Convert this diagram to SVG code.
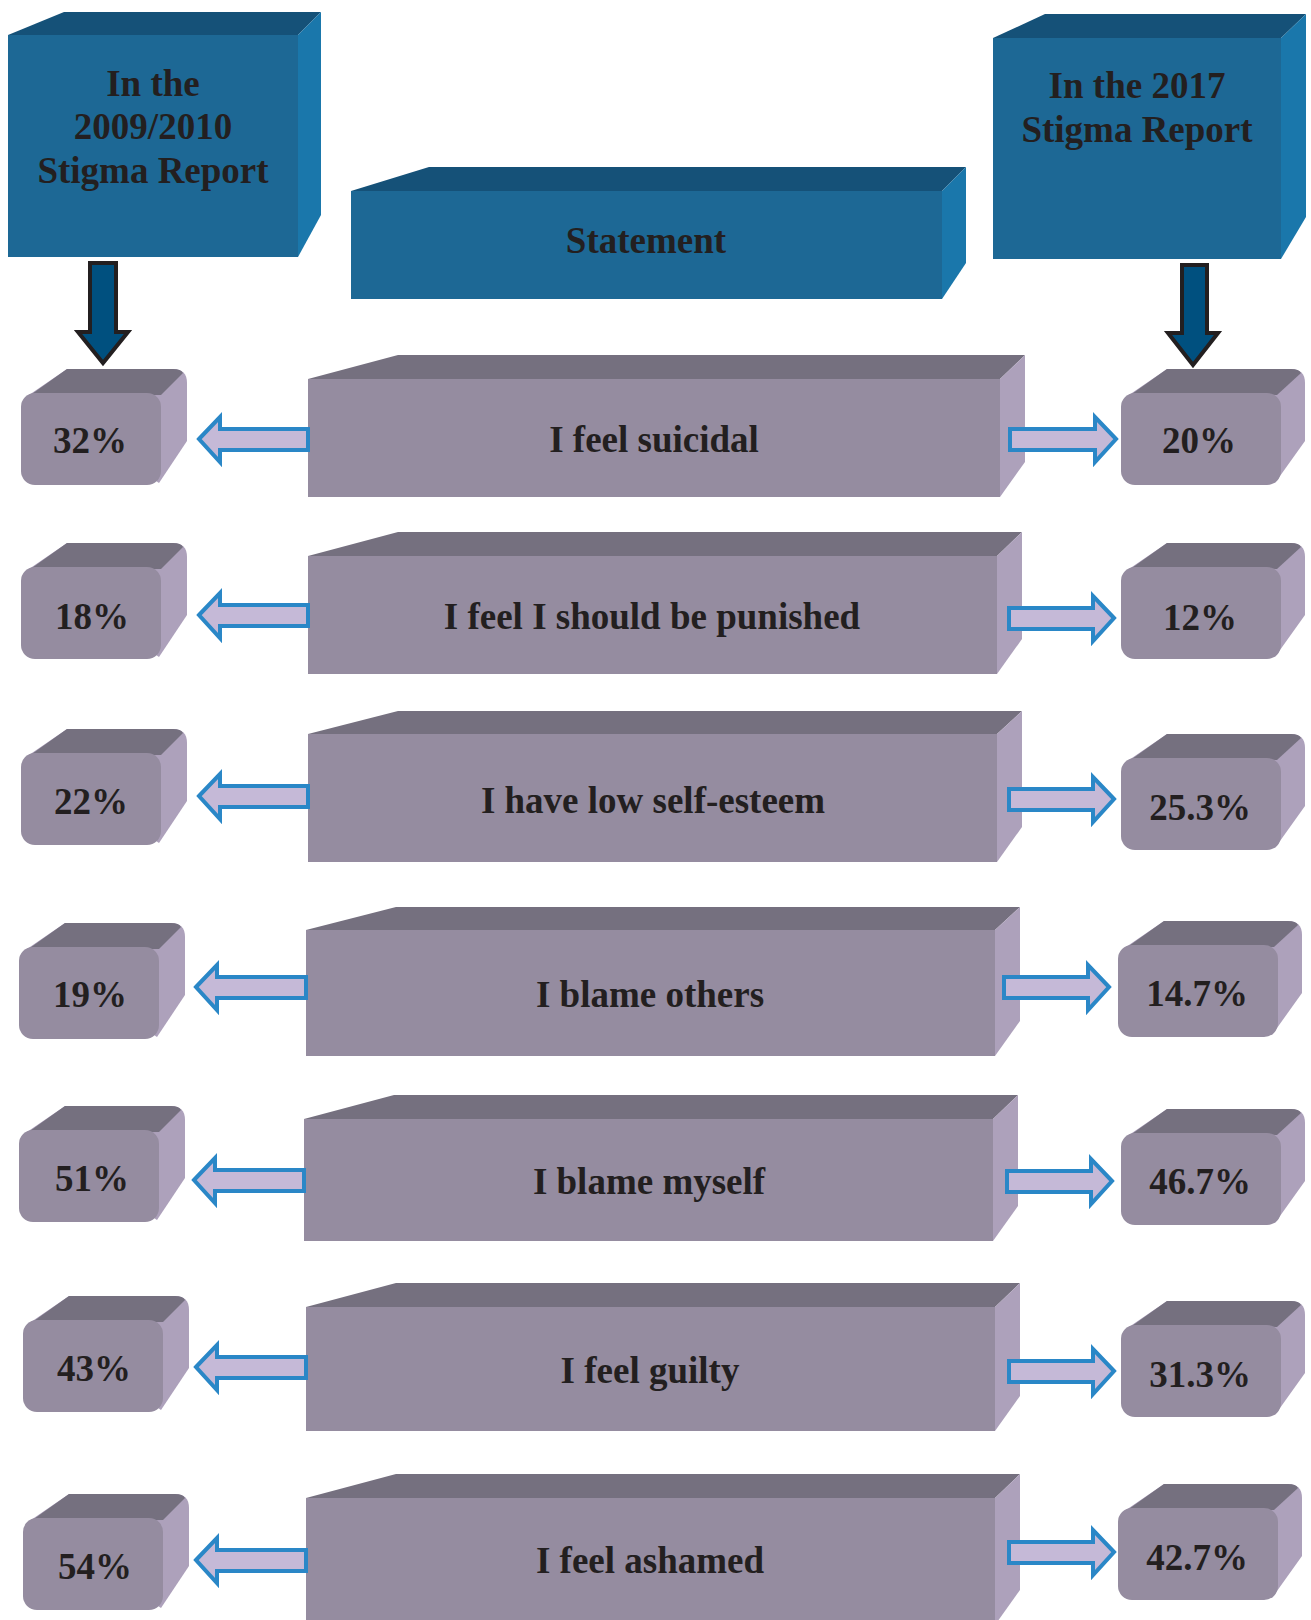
<svg xmlns="http://www.w3.org/2000/svg" xmlns:xlink="http://www.w3.org/1999/xlink" width="1311" height="1620" viewBox="0 0 1311 1620">
<style>
.bf{fill:#1d6895}.bt{fill:#155178}.bs{fill:#1a77ab}
.gf{fill:#958ca0}.gt{fill:#75707f}.gs{fill:#ada1bb}
.t{font-family:"Liberation Serif","Times New Roman",serif;font-weight:bold;font-size:37px;fill:#231f20;text-anchor:middle}
.ha{fill:#c5b9d7;stroke:#2a87c7;stroke-width:4;stroke-linejoin:miter}
.da{fill:#00507f;stroke:#231f20;stroke-width:4;stroke-linejoin:miter}
</style>
<defs>
<g id="pL">
<path class="gs" d="M8,2 L46,-24 L152,-24 Q166,-24 166,-10 L166,48 L138,90 Z"/>
<path class="gt" d="M8,3 L46,-24 L152,-24 Q160,-24 162,-20 L140,2 Z"/>
<rect class="gf" x="0" y="0" width="140" height="92" rx="14"/>
</g>
<g id="pR">
<path class="gs" d="M8,2 L46,-24 L170,-24 Q184,-24 184,-10 L184,48 L154,90 Z"/>
<path class="gt" d="M8,3 L46,-24 L170,-24 Q178,-24 180,-20 L156,2 Z"/>
<rect class="gf" x="0" y="0" width="160" height="92" rx="14"/>
</g>
</defs>

<g id="hdr-left">
<polygon class="bt" points="8,35 64,12 321,12 298,35"/>
<polygon class="bs" points="298,35 321,12 321,215 298,257"/>
<rect class="bf" x="8" y="35" width="290" height="222"/>
<text class="t" x="153" y="96">In the</text>
<text class="t" x="153" y="139">2009/2010</text>
<text class="t" x="153" y="183">Stigma Report</text>
</g>

<g id="hdr-statement">
<polygon class="bt" points="351,191 429,167 966,167 942,191"/>
<polygon class="bs" points="942,191 966,167 966,263 942,299"/>
<rect class="bf" x="351" y="191" width="591" height="108"/>
<text class="t" x="646" y="253">Statement</text>
</g>

<g id="hdr-right">
<polygon class="bt" points="993,38 1045,14 1306,14 1281,38"/>
<polygon class="bs" points="1281,38 1306,14 1306,217 1281,259"/>
<rect class="bf" x="993" y="38" width="288" height="221"/>
<text class="t" x="1137" y="98">In the 2017</text>
<text class="t" x="1137" y="142">Stigma Report</text>
</g>

<g id="s1">
<polygon class="gt" points="308,379 398,355 1025,355 1000,379"/>
<polygon class="gs" points="1000,379 1025,355 1025,462 1000,497"/>
<rect class="gf" x="308" y="379" width="692" height="118"/>
<text class="t" x="654" y="452">I feel suicidal</text>
</g>
<g id="s2">
<polygon class="gt" points="308,556 398,532 1022,532 997,556"/>
<polygon class="gs" points="997,556 1022,532 1022,639 997,674"/>
<rect class="gf" x="308" y="556" width="689" height="118"/>
<text class="t" x="652" y="629">I feel I should be punished</text>
</g>
<g id="s3">
<polygon class="gt" points="308,734 398,711 1022,711 997,734"/>
<polygon class="gs" points="997,734 1022,711 1022,827 997,862"/>
<rect class="gf" x="308" y="734" width="689" height="128"/>
<text class="t" x="653" y="813">I have low self-esteem</text>
</g>
<g id="s4">
<polygon class="gt" points="306,930 396,907 1020,907 995,930"/>
<polygon class="gs" points="995,930 1020,907 1020,1021 995,1056"/>
<rect class="gf" x="306" y="930" width="689" height="126"/>
<text class="t" x="650" y="1007">I blame others</text>
</g>
<g id="s5">
<polygon class="gt" points="304,1119 394,1095 1018,1095 993,1119"/>
<polygon class="gs" points="993,1119 1018,1095 1018,1206 993,1241"/>
<rect class="gf" x="304" y="1119" width="689" height="122"/>
<text class="t" x="649" y="1194">I blame myself</text>
</g>
<g id="s6">
<polygon class="gt" points="306,1307 396,1283 1020,1283 995,1307"/>
<polygon class="gs" points="995,1307 1020,1283 1020,1396 995,1431"/>
<rect class="gf" x="306" y="1307" width="689" height="124"/>
<text class="t" x="650" y="1383">I feel guilty</text>
</g>
<g id="s7">
<polygon class="gt" points="306,1498 396,1474 1020,1474 995,1498"/>
<polygon class="gs" points="995,1498 1020,1474 1020,1590 995,1625"/>
<rect class="gf" x="306" y="1498" width="689" height="130"/>
<text class="t" x="650" y="1573">I feel ashamed</text>
</g>

<g id="l1"><use xlink:href="#pL" x="21" y="393"/><text class="t" x="90" y="453">32%</text></g>
<g id="l2"><use xlink:href="#pL" x="21" y="567"/><text class="t" x="92" y="629">18%</text></g>
<g id="l3"><use xlink:href="#pL" x="21" y="753"/><text class="t" x="91" y="814">22%</text></g>
<g id="l4"><use xlink:href="#pL" x="19" y="947"/><text class="t" x="90" y="1007">19%</text></g>
<g id="l5"><use xlink:href="#pL" x="19" y="1130"/><text class="t" x="92" y="1191">51%</text></g>
<g id="l6"><use xlink:href="#pL" x="23" y="1320"/><text class="t" x="94" y="1381">43%</text></g>
<g id="l7"><use xlink:href="#pL" x="23" y="1518"/><text class="t" x="95" y="1579">54%</text></g>

<g id="r1"><use xlink:href="#pR" x="1121" y="393"/><text class="t" x="1199" y="453">20%</text></g>
<g id="r2"><use xlink:href="#pR" x="1121" y="567"/><text class="t" x="1200" y="630">12%</text></g>
<g id="r3"><use xlink:href="#pR" x="1121" y="758"/><text class="t" x="1200" y="820">25.3%</text></g>
<g id="r4"><use xlink:href="#pR" x="1118" y="945"/><text class="t" x="1197" y="1006">14.7%</text></g>
<g id="r5"><use xlink:href="#pR" x="1121" y="1133"/><text class="t" x="1200" y="1194">46.7%</text></g>
<g id="r6"><use xlink:href="#pR" x="1121" y="1325"/><text class="t" x="1200" y="1387">31.3%</text></g>
<g id="r7"><use xlink:href="#pR" x="1118" y="1508"/><text class="t" x="1197" y="1570">42.7%</text></g>

<g id="connectors">
<path class="da" d="M90,263 L116,263 L116,332 L128,332 L103,363 L78,332 L90,332 Z"/>
<path class="da" d="M1182,265 L1207,265 L1207,333 L1218,333 L1193,365 L1168,333 L1182,333 Z"/>
<path class="ha" d="M199,439 L220,417 L220,429 L308,429 L308,450 L220,450 L220,462 Z"/>
<path class="ha" d="M199,615 L220,593 L220,605 L308,605 L308,626 L220,626 L220,638 Z"/>
<path class="ha" d="M199,796 L220,774 L220,786 L308,786 L308,807 L220,807 L220,819 Z"/>
<path class="ha" d="M196,987 L217,965 L217,977 L306,977 L306,998 L217,998 L217,1010 Z"/>
<path class="ha" d="M194,1180 L215,1158 L215,1170 L304,1170 L304,1191 L215,1191 L215,1203 Z"/>
<path class="ha" d="M196,1367 L217,1345 L217,1357 L306,1357 L306,1378 L217,1378 L217,1390 Z"/>
<path class="ha" d="M196,1560 L217,1538 L217,1550 L306,1550 L306,1571 L217,1571 L217,1583 Z"/>
<path class="ha" d="M1116,439 L1095,417 L1095,429 L1010,429 L1010,450 L1095,450 L1095,462 Z"/>
<path class="ha" d="M1114,618 L1093,596 L1093,608 L1009,608 L1009,629 L1093,629 L1093,641 Z"/>
<path class="ha" d="M1114,799 L1093,777 L1093,789 L1009,789 L1009,810 L1093,810 L1093,822 Z"/>
<path class="ha" d="M1109,987 L1088,965 L1088,977 L1004,977 L1004,998 L1088,998 L1088,1010 Z"/>
<path class="ha" d="M1112,1181 L1091,1159 L1091,1171 L1007,1171 L1007,1192 L1091,1192 L1091,1204 Z"/>
<path class="ha" d="M1114,1371 L1093,1349 L1093,1361 L1009,1361 L1009,1382 L1093,1382 L1093,1394 Z"/>
<path class="ha" d="M1114,1552 L1093,1530 L1093,1542 L1009,1542 L1009,1563 L1093,1563 L1093,1575 Z"/>
</g>
</svg>
